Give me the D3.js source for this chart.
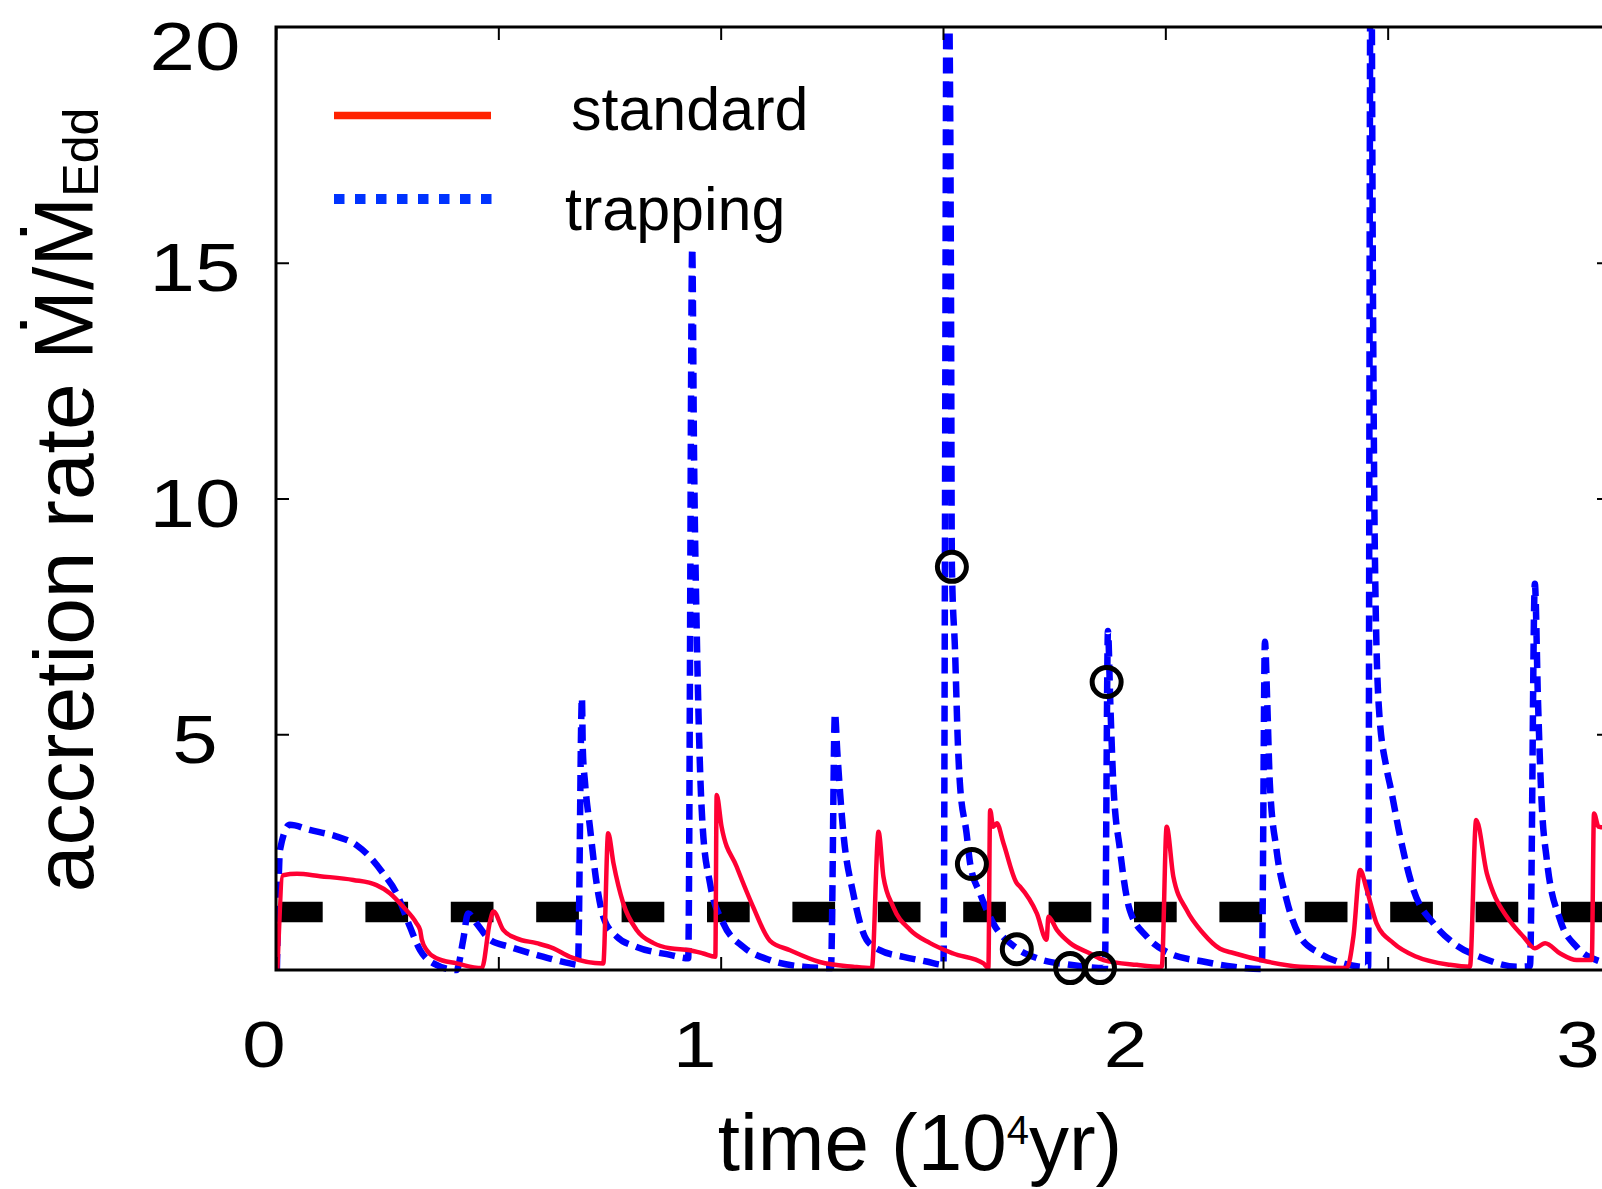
<!DOCTYPE html>
<html>
<head>
<meta charset="utf-8">
<script src="https://cdn.jsdelivr.net/npm/d3@7"></script>
<style>
  body { margin: 0; background: #fff; }
  svg { display: block; }
  text { font-family: "Liberation Sans", Arial, sans-serif; fill: #000; }
</style>
</head>
<body>
<svg id="chart" width="1602" height="1189"></svg>
<script>
// axis ticks and labels
const xTicks = [0, 0.5, 1, 1.5, 2, 2.5, 3];
const xLabelValues = [0, 1, 2, 3];
const xLabelShift = [-12, -26, -40, -32];
const yTicks = [5, 10, 15];
const yLabelValues = [5, 10, 15, 20];

// Eddington level (thick dashed line)
const eddingtonLevel = 1.23;

// standard disk: [time (1e4 yr), Mdot/MEdd]
const standardRate = [
  [0.003, 0], [0.016, 2.01], [0.047, 2.04], [0.099, 1.99], [0.174, 1.91], [0.226, 1.80],
  [0.256, 1.63], [0.286, 1.34], [0.316, 0.99], [0.324, 0.85], [0.328, 0.64], [0.339, 0.42],
  [0.361, 0.25], [0.406, 0.14], [0.463, 0.04], [0.481, 1.02], [0.489, 1.24], [0.511, 0.85],
  [0.541, 0.67], [0.586, 0.57], [0.624, 0.46], [0.661, 0.28], [0.736, 0.14], [0.747, 2.90],
  [0.759, 2.26], [0.781, 1.41], [0.811, 0.85], [0.849, 0.57], [0.886, 0.46], [0.931, 0.42],
  [0.961, 0.35], [0.988, 0.28], [0.991, 3.71], [1.002, 3.04], [1.036, 2.19], [1.073, 1.34],
  [1.111, 0.62], [1.156, 0.42], [1.223, 0.17], [1.298, 0.07], [1.340, 0.04], [1.355, 2.93],
  [1.366, 1.98], [1.388, 1.34], [1.426, 0.85], [1.471, 0.57], [1.523, 0.35], [1.591, 0.14],
  [1.602, 0.04], [1.606, 3.39], [1.613, 3.04], [1.621, 3.11], [1.636, 2.69], [1.666, 1.84],
  [1.673, 1.77], [1.711, 1.20], [1.733, 0.64], [1.737, 1.13], [1.756, 0.85], [1.786, 0.57],
  [1.831, 0.35], [1.861, 0.21], [1.936, 0.11], [1.992, 0.07], [2.003, 3.04], [2.018, 1.98],
  [2.048, 1.27], [2.085, 0.78], [2.123, 0.45], [2.153, 0.36], [2.228, 0.18], [2.303, 0.07],
  [2.408, 0.04], [2.423, 0.71], [2.438, 2.12], [2.453, 1.70], [2.475, 0.99], [2.513, 0.57],
  [2.565, 0.28], [2.640, 0.11], [2.685, 0.07], [2.699, 3.18], [2.723, 2.05], [2.738, 1.63],
  [2.768, 1.13], [2.805, 0.71], [2.831, 0.46], [2.854, 0.57], [2.888, 0.35], [2.925, 0.21],
  [2.959, 0.21], [2.964, 3.32], [2.974, 3.04], [2.985, 3.02], [3.0, 2.8]
];

// photon trapping disk
const trappingRate = [
  [0.002, 0], [0.009, 2.55], [0.031, 3.08], [0.076, 2.97], [0.137, 2.83], [0.181, 2.65],
  [0.211, 2.40], [0.241, 2.05], [0.271, 1.63], [0.301, 0.92], [0.324, 0.42], [0.354, 0.14],
  [0.406, 0], [0.421, 0.64], [0.432, 1.20], [0.451, 0.99], [0.481, 0.64], [0.526, 0.49],
  [0.586, 0.32], [0.661, 0.14], [0.679, 0.11], [0.688, 5.77], [0.690, 4.67], [0.695, 3.97],
  [0.706, 3.03], [0.721, 1.84], [0.736, 1.13], [0.766, 0.71], [0.811, 0.49], [0.886, 0.32],
  [0.927, 0.25], [0.936, 15.31], [0.940, 11.03], [0.947, 6.79], [0.953, 4.45], [0.960, 2.97],
  [0.976, 1.84], [1.006, 0.99], [1.051, 0.49], [1.111, 0.21], [1.186, 0.07], [1.248, 0.04],
  [1.257, 5.45], [1.262, 4.67], [1.276, 2.90], [1.298, 1.63], [1.328, 0.64], [1.358, 0.42],
  [1.411, 0.28], [1.463, 0.18], [1.501, 0.11], [1.509, 23], [1.516, 18.45], [1.518, 14.21],
  [1.520, 8.55], [1.527, 6.79], [1.534, 4.67], [1.538, 3.96], [1.553, 2.90], [1.561, 2.26],
  [1.583, 1.63], [1.613, 0.99], [1.666, 0.46], [1.711, 0.25], [1.786, 0.11], [1.864, 0.04],
  [1.871, 7.19], [1.876, 5.73], [1.883, 3.96], [1.898, 2.55], [1.920, 1.27], [1.958, 0.71],
  [2.010, 0.35], [2.085, 0.18], [2.153, 0.07], [2.217, 0.02], [2.224, 6.96], [2.229, 5.73],
  [2.235, 3.96], [2.250, 2.55], [2.273, 1.48], [2.303, 0.71], [2.348, 0.35], [2.400, 0.14],
  [2.456, 0.06], [2.462, 24], [2.467, 14.2], [2.471, 9.0], [2.480, 5.6], [2.497, 4.3],
  [2.507, 3.85], [2.528, 2.83], [2.558, 1.70], [2.603, 0.99], [2.648, 0.57], [2.715, 0.25],
  [2.790, 0.07], [2.820, 0.08], [2.831, 8.19], [2.838, 5.73], [2.846, 3.61], [2.858, 2.33],
  [2.888, 1.06], [2.925, 0.49], [2.970, 0.21], [3.0, 0.15]
];

// open circles
const markedTime = [1.520, 1.565, 1.666, 1.786, 1.853, 1.868];
const markedRate = [8.55, 2.25, 0.44, 0.04, 0.04, 6.11];

const svg = d3.select('#chart');

const x = d3.scaleLinear().domain([0, 3]).range([276, 1610]);
const y = d3.scaleLinear().domain([0, 20]).range([970, 27]);

svg.append('rect').attr('width', 1602).attr('height', 1189).attr('fill', '#fff');

svg.append('clipPath').attr('id', 'plot-clip')
    .append('rect')
    .attr('x', x(0)).attr('y', y(20))
    .attr('width', x(3) - x(0)).attr('height', y(0) - y(20) + 4);

const plot = svg.append('g').attr('clip-path', 'url(#plot-clip)');

// Eddington line
plot.append('line')
    .attr('x1', x(0)).attr('x2', x(3))
    .attr('y1', y(eddingtonLevel)).attr('y2', y(eddingtonLevel))
    .attr('stroke', '#000')
    .attr('stroke-width', 20.5)
    .attr('stroke-dasharray', '42.7 42.7')
    .attr('stroke-dashoffset', -4);

const line = d3.line()
    .x(d => x(d[0]))
    .y(d => y(d[1]))
    .curve(d3.curveMonotoneX);

plot.append('path')
    .datum(trappingRate)
    .attr('d', line)
    .attr('fill', 'none')
    .attr('stroke', '#0000ff')
    .attr('stroke-width', 6.5)
    .attr('stroke-dasharray', '16 8')
    .attr('stroke-linejoin', 'round');

plot.append('path')
    .datum(standardRate)
    .attr('d', line)
    .attr('fill', 'none')
    .attr('stroke', '#ff0033')
    .attr('stroke-width', 4.5)
    .attr('stroke-linejoin', 'round');

// frame and inward ticks
svg.append('rect')
    .attr('x', x(0)).attr('y', y(20))
    .attr('width', x(3) - x(0)).attr('height', y(0) - y(20))
    .attr('fill', 'none')
    .attr('stroke', '#000')
    .attr('stroke-width', 3);

function styleAxis(g) {
    g.select('.domain').remove();
    g.selectAll('.tick line').attr('stroke', '#000').attr('stroke-width', 2);
    g.selectAll('.tick text').remove();
}

svg.append('g').attr('transform', `translate(0,${y(0)})`)
    .call(d3.axisBottom(x).tickValues(xTicks).tickSize(-13)).call(styleAxis);
svg.append('g').attr('transform', `translate(0,${y(20)})`)
    .call(d3.axisTop(x).tickValues(xTicks).tickSize(-13)).call(styleAxis);
svg.append('g').attr('transform', `translate(${x(0)},0)`)
    .call(d3.axisLeft(y).tickValues(yTicks).tickSize(-13)).call(styleAxis);
svg.append('g').attr('transform', `translate(${x(3)},0)`)
    .call(d3.axisRight(y).tickValues(yTicks).tickSize(-13)).call(styleAxis);

// circles
svg.append('g').selectAll('circle')
    .data(markedTime)
    .enter()
    .append('circle')
    .attr('cx', d => x(d))
    .attr('cy', (d, i) => y(markedRate[i]))
    .attr('r', 14.5)
    .attr('fill', 'none')
    .attr('stroke', '#000')
    .attr('stroke-width', 5);

// tick labels
svg.append('g').selectAll('text')
    .data(xLabelValues)
    .enter()
    .append('text')
    .attr('transform', (d, i) => `translate(${x(d) + xLabelShift[i]},1067) scale(1.2,1)`)
    .attr('text-anchor', 'middle')
    .attr('font-size', 65)
    .text(d => d);

svg.append('g').selectAll('text')
    .data(yLabelValues)
    .enter()
    .append('text')
    .attr('transform', d => `translate(195,${y(d) + (d === 20 ? 43 : 28.5)}) scale(1.2,1)`)
    .attr('text-anchor', 'middle')
    .attr('font-size', 68)
    .text(d => d);

// axis titles
const yTitle = svg.append('text')
    .attr('transform', 'translate(93,500) rotate(-90)')
    .attr('text-anchor', 'middle')
    .attr('font-size', 84);
yTitle.append('tspan').text('accretion rate \u1E40/\u1E40');
yTitle.append('tspan').attr('font-size', 50).attr('dy', 5).text('Edd');

const xTitle = svg.append('text')
    .attr('x', 920).attr('y', 1170)
    .attr('text-anchor', 'middle')
    .attr('font-size', 80);
xTitle.append('tspan').text('time (10');
xTitle.append('tspan').attr('font-size', 40).attr('dy', -26).text('4');
xTitle.append('tspan').attr('dy', 26).text('yr)');

// legend
const legend = svg.append('g');
legend.append('line')
    .attr('x1', 334).attr('x2', 491).attr('y1', 115.5).attr('y2', 115.5)
    .attr('stroke', '#ff2200').attr('stroke-width', 7.5);
legend.append('line')
    .attr('x1', 334).attr('x2', 492).attr('y1', 199).attr('y2', 199)
    .attr('stroke', '#0033ff').attr('stroke-width', 10)
    .attr('stroke-dasharray', '10.5 10.5');
legend.append('text').attr('x', 571).attr('y', 130).attr('font-size', 61).text('standard');
legend.append('text').attr('x', 565).attr('y', 230).attr('font-size', 61).text('trapping');
</script>
</body>
</html>
